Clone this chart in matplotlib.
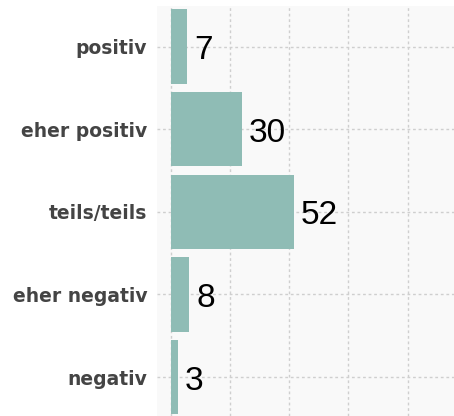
import matplotlib
matplotlib.use("Agg")
import matplotlib.pyplot as plt

# data
categories = ["positiv", "eher positiv", "teils/teils", "eher negativ", "negativ"]
values = [7, 30, 52, 8, 3]
xticks = [0, 25, 50, 75, 100, 125]

bar_color = "#8fbcb5"

fig = plt.figure(figsize=(4.54, 4.16), dpi=100)
ax = fig.add_axes([157 / 454, 0.0, 1 - 157 / 454, 1 - 6 / 416])
ax.set_facecolor("#f9f9f9")

ypos = list(range(len(categories)))
ax.barh(ypos, values, height=0.9, color=bar_color, zorder=2)

for y, v in zip(ypos, values):
    ax.text(v + 2.8, y + 0.05, str(v), va="center", ha="left",
            fontsize=24, family="Liberation Sans", color="black", zorder=3)

ax.set_yticks(ypos)
ax.set_yticklabels(categories, fontsize=13.5, fontweight="bold", color="#444444")
ax.set_xticks(xticks)
ax.set_xticklabels([])
ax.set_ylim(4.47, -0.49)
ax.set_xlim(-5.7, 119.5)

ax.grid(True, color="#cfcfcf", linestyle=(0, (2, 2)), linewidth=1, zorder=0)
ax.tick_params(axis="both", length=0, pad=7)
for s in ax.spines.values():
    s.set_visible(False)

fig.savefig("out.png", dpi=100)
